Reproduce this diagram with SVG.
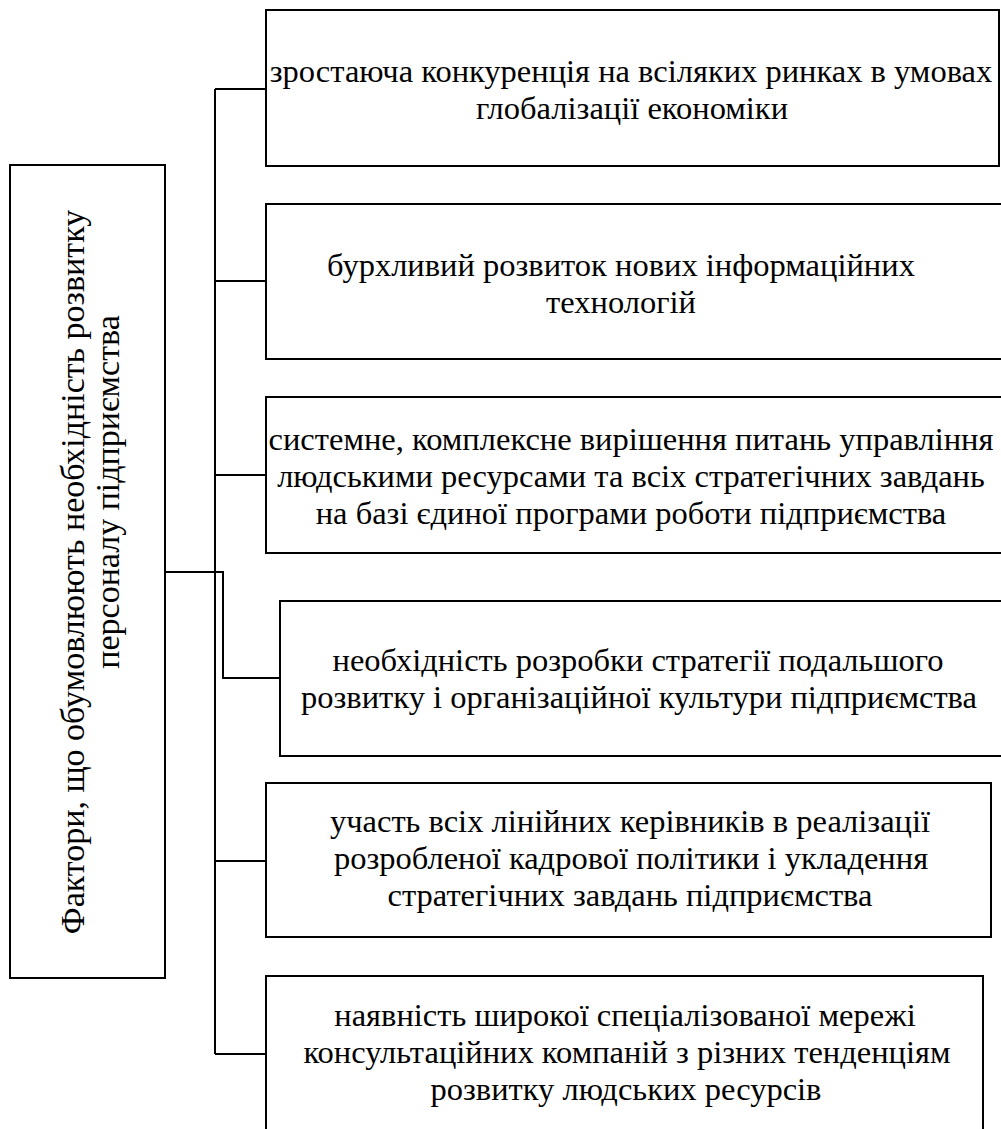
<svg xmlns="http://www.w3.org/2000/svg" width="1001" height="1129" viewBox="0 0 1001 1129">
<style>
.box{fill:#fff;stroke:#000;stroke-width:2}
.con{fill:none;stroke:#000;stroke-width:2}
.t{font-family:'Liberation Serif','Times New Roman',serif;font-size:32.5px;fill:#000;text-anchor:middle}
.v{font-size:34px}
</style>
<rect width="1001" height="1129" fill="#fff"/>
<g id="connectors">
<line class="con" x1="215" y1="89" x2="215" y2="1054"/>
<line class="con" x1="215" y1="89" x2="266" y2="89"/>
<line class="con" x1="215" y1="281" x2="266" y2="281"/>
<line class="con" x1="215" y1="475" x2="266" y2="475"/>
<polyline class="con" points="165,572 223,572 223,678 280,678"/>
<line class="con" x1="215" y1="861" x2="266" y2="861"/>
<line class="con" x1="215" y1="1054" x2="266" y2="1054"/>
</g>
<g id="main">
<rect class="box" x="10" y="165" width="155" height="813"/>
<text class="t v" transform="translate(84,572) rotate(-90)">Фактори, що обумовлюють необхідність розвитку</text>
<text class="t v" transform="translate(119,492) rotate(-90)">персоналу підприємства</text>
</g>
<g id="f1">
<rect class="box" x="266" y="10" width="733" height="156"/>
<text class="t" x="631" y="82">зростаюча конкуренція на всіляких ринках в умовах</text>
<text class="t" x="632" y="119">глобалізації економіки</text>
</g>
<g id="f2">
<rect class="box" x="266" y="204" width="745" height="155"/>
<text class="t" x="621" y="276">бурхливий розвиток нових інформаційних</text>
<text class="t" x="621" y="313">технологій</text>
</g>
<g id="f3">
<rect class="box" x="266" y="397" width="745" height="156"/>
<text class="t" x="631" y="450">системне, комплексне вирішення питань управління</text>
<text class="t" x="631" y="487">людськими ресурсами та всіх стратегічних завдань</text>
<text class="t" x="631" y="524">на базі єдиної програми роботи підприємства</text>
</g>
<g id="f4">
<rect class="box" x="280" y="601" width="731" height="155"/>
<text class="t" x="638" y="671">необхідність розробки стратегії подальшого</text>
<text class="t" x="639" y="708">розвитку і організаційної культури підприємства</text>
</g>
<g id="f5">
<rect class="box" x="266" y="783" width="725" height="154"/>
<text class="t" x="630" y="832">участь всіх лінійних керівників в реалізації</text>
<text class="t" x="631" y="869">розробленої кадрової політики і укладення</text>
<text class="t" x="630" y="906">стратегічних завдань підприємства</text>
</g>
<g id="f6">
<rect class="box" x="266" y="976" width="717" height="170"/>
<text class="t" x="625" y="1026">наявність широкої спеціалізованої мережі</text>
<text class="t" x="627" y="1063">консультаційних компаній з різних тенденціям</text>
<text class="t" x="626" y="1100">розвитку людських ресурсів</text>
</g>
</svg>
